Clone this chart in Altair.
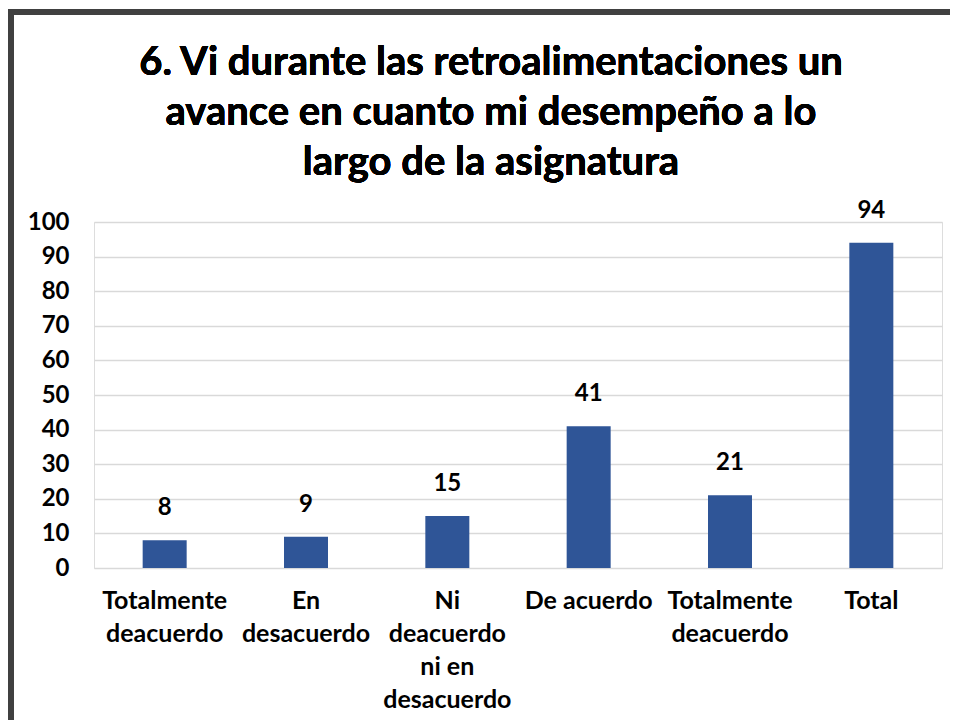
import json
import altair as alt
import pandas as pd

categories = ["Totalmente deacuerdo", "En desacuerdo", "Ni deacuerdo ni en desacuerdo",
              "De acuerdo", "Totalmente deacuerdo", "Total"]
label_lines = [["Totalmente", "deacuerdo"], ["En", "desacuerdo"],
               ["Ni", "deacuerdo", "ni en", "desacuerdo"], ["De acuerdo"],
               ["Totalmente", "deacuerdo"], ["Total"]]
values = [8, 9, 15, 41, 21, 94]
y_ticks = list(range(0, 101, 10))
title_lines = ["6. Vi durante las retroalimentaciones un",
               "avance en cuanto mi desempeño a lo",
               "largo de la asignatura"]

df = pd.DataFrame({"idx": list(range(len(categories))), "cat": categories, "val": values})

FONT = "Lato"
label_expr = json.dumps(label_lines) + "[datum.value]"

x = alt.X("idx:O", scale=alt.Scale(paddingInner=0, paddingOuter=0),
          axis=alt.Axis(title=None, labelAngle=0, labelExpr=label_expr, ticks=False,
                        domain=False, labelPadding=20, labelFontSize=25,
                        labelFontWeight="bold", labelFont=FONT, labelColor="black",
                        labelLineHeight=33, labelBaseline="top", labelLimit=300))
y = alt.Y("val:Q", scale=alt.Scale(domain=[0, 100]),
          axis=alt.Axis(title=None, values=y_ticks, ticks=False, domain=False,
                        labelPadding=25, labelFontSize=24, labelFontWeight="bold",
                        labelFont=FONT, labelColor="black", gridColor="#d9d9d9",
                        gridWidth=1.5))

base = alt.Chart(df)
bars = base.mark_bar(width=44, color="#2f5597").encode(x=x, y=y)
text = base.mark_text(dy=-20, baseline="bottom", fontSize=24, fontWeight="bold",
                      font=FONT, color="black").encode(x=x, y=y, text="val:Q")

frame_top = base.mark_rule(color="#404040", strokeWidth=6).encode(
    x=alt.value(-90), x2=alt.value(900), y=alt.value(-210))
frame_left = base.mark_rule(color="#404040", strokeWidth=6).encode(
    x=alt.value(-83), y=alt.value(-213), y2=alt.value(530))

title = base.mark_text(font=FONT, fontSize=40, fontWeight="bold", color="black",
                       align="center", baseline="middle", lineHeight=50).encode(
    x=alt.value(397), y=alt.value(-159), text=alt.value(title_lines))

chart = alt.layer(frame_top, frame_left, bars, text, title).properties(
    width=848, height=346,
    autosize=alt.AutoSizeParams(type="none"),
    padding={"left": 86, "top": 214, "right": 8, "bottom": 152},
).configure_view(stroke=None).configure(background="white")

chart.save("out.html", embed_options={"renderer": "svg", "actions": False})
